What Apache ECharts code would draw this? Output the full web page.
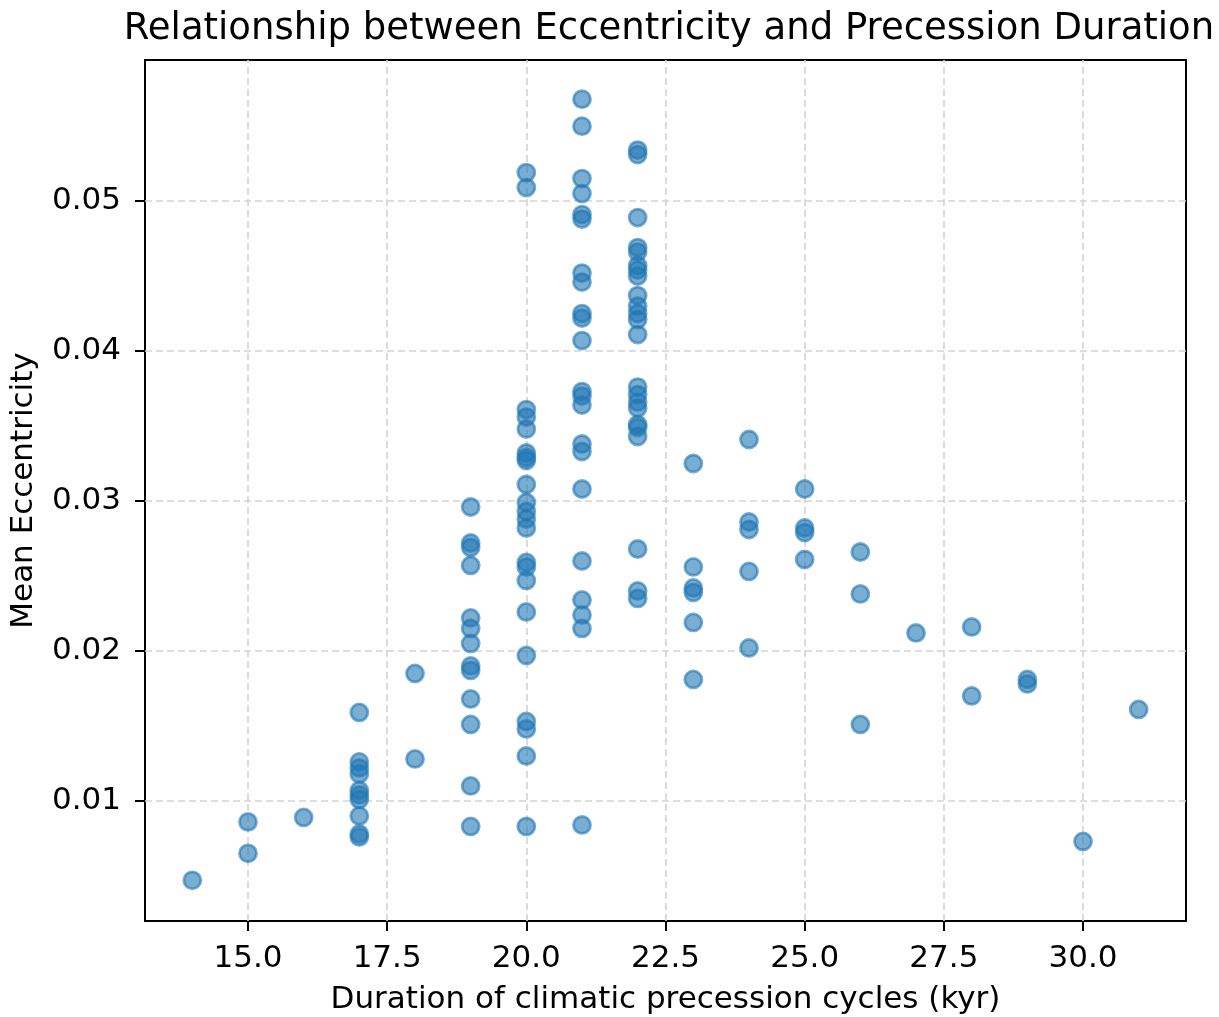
<!DOCTYPE html>
<html>
<head>
<meta charset="utf-8">
<script src="https://cdn.jsdelivr.net/npm/echarts@6/dist/echarts.min.js"></script>
<style>
html,body{margin:0;padding:0;background:#fff;}
#chart{width:1219px;height:1017px;}
</style>
</head>
<body>
<div id="chart"></div>
<script>
// Duration of climatic precession cycles (kyr)
const durations = [
  14,
  15, 15,
  16,
  17, 17, 17, 17, 17, 17, 17, 17, 17, 17,
  18, 18,
  19, 19, 19, 19, 19, 19, 19, 19, 19, 19, 19, 19, 19,
  20, 20, 20, 20, 20, 20, 20, 20, 20, 20, 20, 20, 20, 20, 20, 20, 20, 20, 20, 20, 20, 20,
  21, 21, 21, 21, 21, 21, 21, 21, 21, 21, 21, 21, 21, 21, 21, 21, 21, 21, 21, 21, 21, 21,
  22, 22, 22, 22, 22, 22, 22, 22, 22, 22, 22, 22, 22, 22, 22, 22, 22, 22, 22, 22, 22, 22, 22,
  23, 23, 23, 23, 23, 23,
  24, 24, 24, 24, 24,
  25, 25, 25, 25,
  26, 26, 26,
  27,
  28, 28,
  29, 29,
  30,
  31
];
// Mean eccentricity
const eccentricities = [
  0.0047,
  0.0086, 0.0065,
  0.0089,
  0.0159, 0.0126, 0.0122, 0.0118, 0.0107, 0.0104, 0.0101, 0.0090, 0.0078, 0.0076,
  0.0185, 0.0128,
  0.0296, 0.0272, 0.0269, 0.0257, 0.0222, 0.0215, 0.0205, 0.0190, 0.0187, 0.0168, 0.0151, 0.0110, 0.0083,
  0.0519, 0.0509, 0.0361, 0.0356, 0.0348, 0.0332, 0.0329, 0.0327, 0.0311, 0.0299, 0.0293, 0.0288, 0.0282, 0.0259, 0.0256, 0.0247, 0.0226, 0.0197, 0.0153, 0.0148, 0.0130, 0.0083,
  0.0568, 0.0550, 0.0515, 0.0505, 0.0491, 0.0488, 0.0452, 0.0446, 0.0425, 0.0422, 0.0407, 0.0373, 0.0370, 0.0364, 0.0338, 0.0333, 0.0308, 0.0260, 0.0234, 0.0224, 0.0215, 0.0084,
  0.0534, 0.0531, 0.0489, 0.0469, 0.0466, 0.0457, 0.0454, 0.0450, 0.0437, 0.0430, 0.0425, 0.0421, 0.0411, 0.0376, 0.0371, 0.0366, 0.0362, 0.0351, 0.0349, 0.0343, 0.0268, 0.0240, 0.0235,
  0.0325, 0.0256, 0.0242, 0.0239, 0.0219, 0.0181,
  0.0341, 0.0286, 0.0281, 0.0253, 0.0202,
  0.0308, 0.0282, 0.0279, 0.0261,
  0.0266, 0.0238, 0.0151,
  0.0212,
  0.0216, 0.0170,
  0.0181, 0.0178,
  0.0073,
  0.0161
];
const xTicks = [15.0, 17.5, 20.0, 22.5, 25.0, 27.5, 30.0];
const yTicks = [0.01, 0.02, 0.03, 0.04, 0.05];
const xRange = [13.15, 31.85];
const yRange = [0.00199, 0.05941];

const FONT = 'DejaVu Sans';
const points = durations.map((d, i) => [d, eccentricities[i]]);
const gridStyle = {type: [7, 4], color: '#d3d3d3', width: 1.6};

const chart = echarts.init(document.getElementById('chart'), null, {renderer: 'canvas'});
chart.setOption({
  animation: false,
  backgroundColor: '#ffffff',
  title: {
    text: 'Relationship between Eccentricity and Precession Duration',
    left: 664, top: 6, textAlign: 'center',
    textStyle: {fontFamily: FONT, fontSize: 37, fontWeight: 'normal', color: '#000'}
  },
  grid: {left: 145, top: 60, width: 1041, height: 861, show: true, borderColor: '#000', borderWidth: 2, backgroundColor: 'transparent', containLabel: false, outerBoundsMode: 'none'},
  xAxis: {
    type: 'value', min: xRange[0], max: xRange[1],
    name: 'Duration of climatic precession cycles (kyr)', nameLocation: 'middle', nameGap: 63,
    nameTextStyle: {fontFamily: FONT, fontSize: 31, color: '#000'},
    axisLine: {show: true, onZero: false, lineStyle: {color: '#000', width: 2}},
    axisTick: {show: true, length: 10, lineStyle: {color: '#000', width: 2}, customValues: xTicks},
    axisLabel: {fontFamily: FONT, fontSize: 31, color: '#000', margin: 22, customValues: xTicks, formatter: v => v.toFixed(1)},
    splitLine: {show: false}
  },
  yAxis: {
    type: 'value', min: yRange[0], max: yRange[1],
    name: 'Mean Eccentricity', nameLocation: 'middle', nameGap: 106,
    nameTextStyle: {fontFamily: FONT, fontSize: 31, color: '#000'},
    axisLine: {show: true, onZero: false, lineStyle: {color: '#000', width: 2}},
    axisTick: {show: true, length: 10, lineStyle: {color: '#000', width: 2}, customValues: yTicks},
    axisLabel: {fontFamily: FONT, fontSize: 31, color: '#000', margin: 24, customValues: yTicks, formatter: v => v.toFixed(2)},
    splitLine: {show: false}
  },
  series: [
    {
      type: 'scatter', data: [], silent: true, z: 1,
      markLine: {
        silent: true, symbol: 'none', z: 1, animation: false,
        label: {show: false},
        lineStyle: gridStyle,
        data: xTicks.map(v => ({xAxis: v})).concat(yTicks.map(v => ({yAxis: v})))
      }
    },
    {
      type: 'scatter', z: 10,
      data: points,
      symbol: 'circle', symbolSize: 17,
      itemStyle: {color: '#1f77b4', borderColor: '#1f77b4', borderWidth: 2.8, opacity: 0.6}
    }
  ]
});
</script>
</body>
</html>
